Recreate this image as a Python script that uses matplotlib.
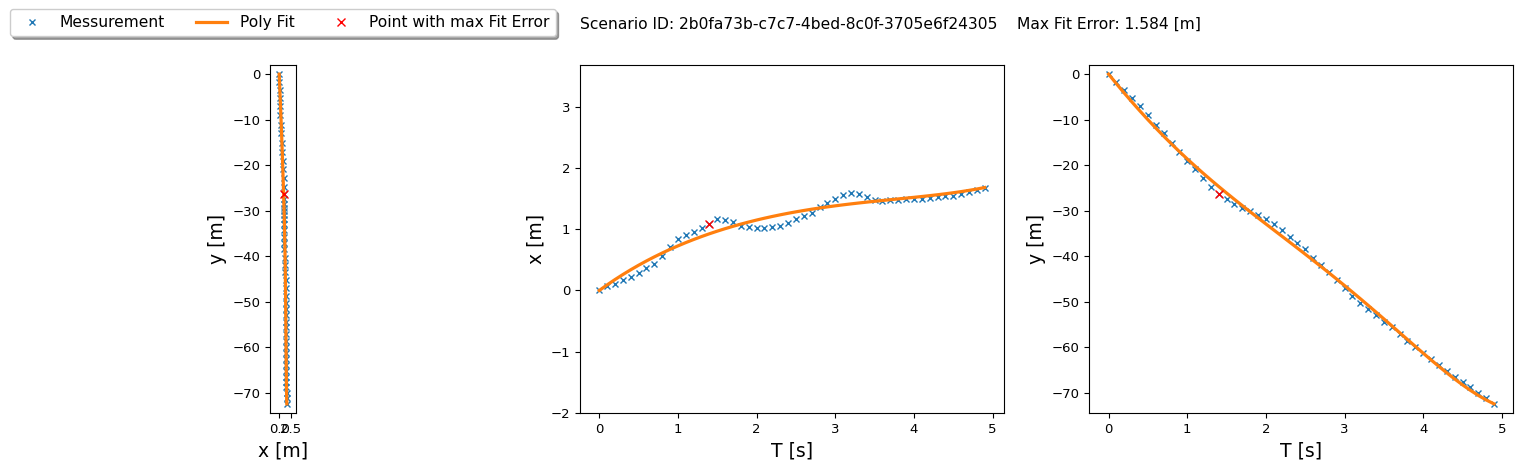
import numpy as np
import matplotlib
matplotlib.use("Agg")
import matplotlib.pyplot as plt

# ---- data ----
t_s = [0.0, 0.1, 0.2, 0.3, 0.4, 0.5, 0.6, 0.7, 0.8, 0.9,
       1.0, 1.1, 1.2, 1.3, 1.4, 1.5, 1.6, 1.7, 1.8, 1.9,
       2.0, 2.1, 2.2, 2.3, 2.4, 2.5, 2.6, 2.7, 2.8, 2.9,
       3.0, 3.1, 3.2, 3.3, 3.4, 3.5, 3.6, 3.7, 3.8, 3.9,
       4.0, 4.1, 4.2, 4.3, 4.4, 4.5, 4.6, 4.7, 4.8, 4.9]
x_m = [0.00, 0.07, 0.11, 0.17, 0.22, 0.29, 0.36, 0.44, 0.56, 0.71,
       0.84, 0.90, 0.96, 1.02, 1.09, 1.16, 1.15, 1.11, 1.05, 1.03,
       1.02, 1.02, 1.03, 1.05, 1.10, 1.16, 1.21, 1.27, 1.37, 1.43,
       1.50, 1.56, 1.59, 1.57, 1.53, 1.47, 1.46, 1.47, 1.47, 1.49,
       1.50, 1.50, 1.51, 1.52, 1.54, 1.55, 1.58, 1.61, 1.64, 1.68]
y_m = [0.0, -1.75, -3.4, -5.2, -7.1, -9.0, -11.1, -13.0, -15.1, -17.2,
       -19.0, -20.9, -22.9, -24.7, -26.3, -27.5, -28.5, -29.3, -30.0, -30.9,
       -31.9, -33.0, -34.3, -35.7, -37.0, -38.5, -40.3, -41.8, -43.5, -45.2,
       -46.9, -48.7, -50.3, -51.6, -52.9, -54.4, -55.6, -57.1, -58.6, -59.9,
       -61.3, -62.6, -63.9, -65.1, -66.4, -67.5, -68.8, -69.9, -71.2, -72.4]
max_err_idx = 14
fit_degree = 5
scenario_id = "2b0fa73b-c7c7-4bed-8c0f-3705e6f24305"
max_fit_error = 1.584

T = np.array(t_s)
X = np.array(x_m)
Y = np.array(y_m)


def anchored_fit(t, v, deg):
    """Least-squares polynomial of degree `deg` through the first and last measurement."""
    tn = t[-1]
    base = v[0] + (v[-1] - v[0]) * t / tn
    A = np.vstack([t * (t - tn) * t ** k for k in range(0, deg - 1)]).T
    c, *_ = np.linalg.lstsq(A, v - base, rcond=None)
    return base + A @ c


x_fit = anchored_fit(T, X, fit_degree)
y_fit = anchored_fit(T, Y, fit_degree)

BLUE = "#1f77b4"
ORANGE = "#ff7f0e"
RED = "red"
TICK_FS = 9.5
LABEL_FS = 13.5
MS = 5.0
LW = 2.3

W, H = 1523, 470
fig = plt.figure(figsize=(W / 100, H / 100), dpi=100)

bottom = (470 - 413) / H
height = 348 / H
width = 424 / W

ax1 = fig.add_axes([71 / W, bottom, width, height])
ax2 = fig.add_axes([580 / W, bottom, width, height])
ax3 = fig.add_axes([1089.3 / W, bottom, width, height])

# left: x vs y
h1, = ax1.plot(X, Y, "x", color=BLUE, ms=MS, label="Messurement")
h2, = ax1.plot(x_fit, y_fit, "-", color=ORANGE, lw=LW, label="Poly Fit")
h3, = ax1.plot(X[max_err_idx], Y[max_err_idx], "x", color=RED, ms=MS + 1,
               label="Point with max Fit Error")
ax1.set_xlim(X.min() - 2, X.max() + 2)
ax1.set_ylim(Y.min() - 2, Y.max() + 2)
ax1.set_aspect("equal", adjustable="box", anchor="C")
ax1.set_xticks([0.0, 2.5])
ax1.set_xlabel("x [m]", fontsize=LABEL_FS)
ax1.set_ylabel("y [m]", fontsize=LABEL_FS)

# middle: T vs x
ax2.plot(T, X, "x", color=BLUE, ms=MS)
ax2.plot(T, x_fit, "-", color=ORANGE, lw=LW)
ax2.plot(T[max_err_idx], X[max_err_idx], "x", color=RED, ms=MS + 1)
ax2.set_ylim(X.min() - 2, X.max() + 2)
ax2.set_xlabel("T [s]", fontsize=LABEL_FS)
ax2.set_ylabel("x [m]", fontsize=LABEL_FS)

# right: T vs y
ax3.plot(T, Y, "x", color=BLUE, ms=MS)
ax3.plot(T, y_fit, "-", color=ORANGE, lw=LW)
ax3.plot(T[max_err_idx], Y[max_err_idx], "x", color=RED, ms=MS + 1)
ax3.set_ylim(Y.min() - 2, Y.max() + 2)
ax3.set_xlabel("T [s]", fontsize=LABEL_FS)
ax3.set_ylabel("y [m]", fontsize=LABEL_FS)

for ax in (ax1, ax2, ax3):
    ax.tick_params(labelsize=TICK_FS)

fig.legend(handles=[h1, h2, h3], loc="upper left",
           bbox_to_anchor=(10 / W, 1 - 9 / H), bbox_transform=fig.transFigure,
           borderaxespad=0, ncol=3, shadow=True, fontsize=11.2, frameon=True)

fig.text(580 / W, 1 - 24 / H,
         f"Scenario ID: {scenario_id}    Max Fit Error: {max_fit_error:.3f} [m]",
         fontsize=11.2, va="center", ha="left")

fig.savefig("out.png", dpi=100)
